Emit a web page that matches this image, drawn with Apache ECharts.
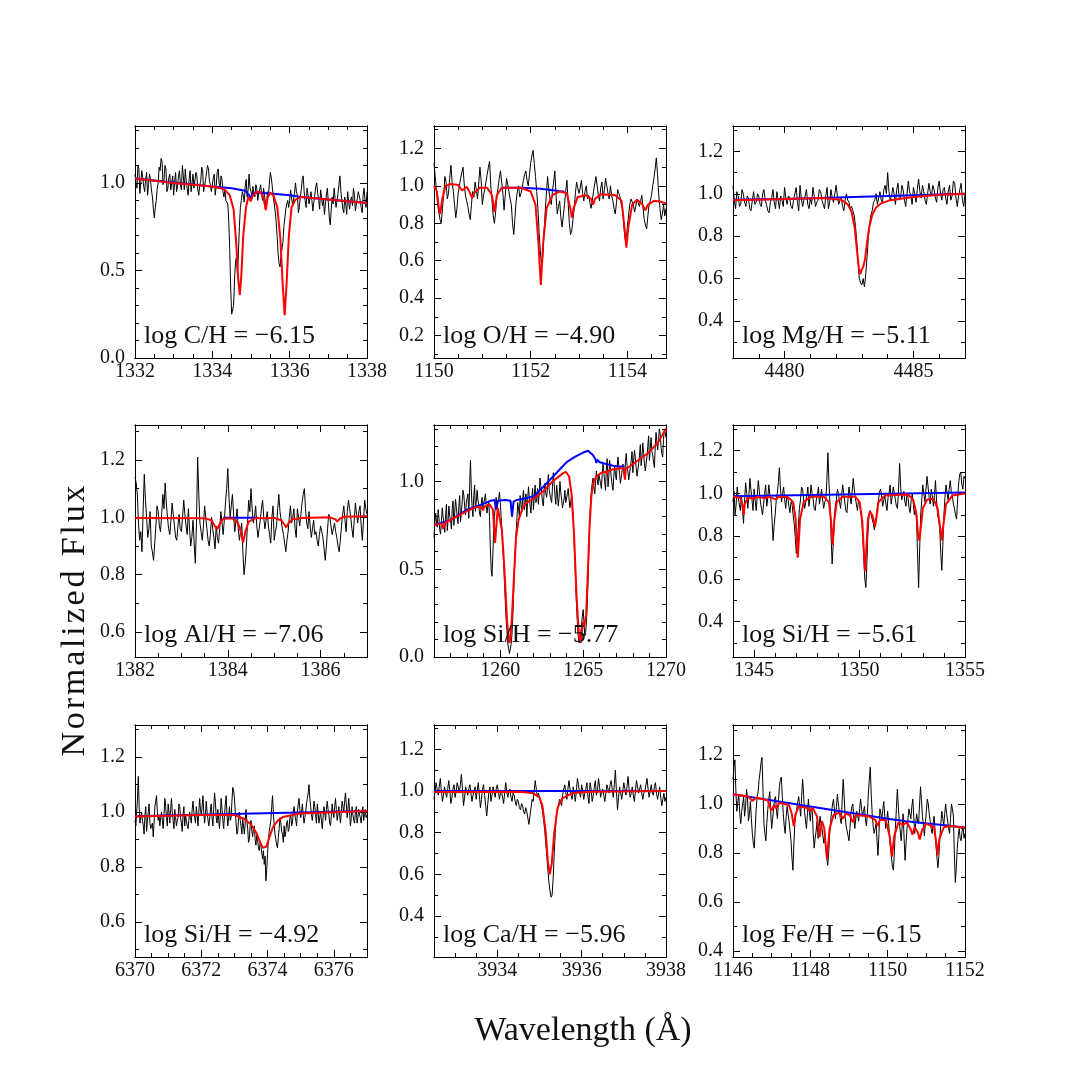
<!DOCTYPE html>
<html>
<head>
<meta charset="utf-8">
<title>Abundance fits</title>
<script src="https://cdn.jsdelivr.net/npm/echarts@6/dist/echarts.min.js"></script>
<style>
  html, body { margin: 0; background: #fff; }
  #chart { width: 1090px; height: 1090px; }
</style>
</head>
<body>
<div id="chart"></div>
<script>
// panel annotations, axis limits and tick labels
const labels = ['log C/H = −6.15', 'log O/H = −4.90', 'log Mg/H = −5.11',
  'log Al/H = −7.06', 'log Si/H = −5.77', 'log Si/H = −5.61',
  'log Si/H = −4.92', 'log Ca/H = −5.96', 'log Fe/H = −6.15']
const xLims = [[1332, 1338], [1150, 1154.8], [4478, 4487], [1382, 1387], [1256, 1270],
  [1344, 1355], [6370, 6377], [3932.5, 3938], [1146, 1152]]
const yLims = [[0, 1.325], [0.08, 1.32], [0.225, 1.32], [0.513, 1.322], [0, 1.322],
  [0.235, 1.32], [0.473, 1.317], [0.203, 1.317], [0.376, 1.322]]
const xMajor = [[1332, 1334, 1336, 1338], [1150, 1152, 1154], [4480, 4485], [1382, 1384, 1386],
  [1260, 1265, 1270], [1345, 1350, 1355], [6370, 6372, 6374, 6376], [3934, 3936, 3938],
  [1146, 1148, 1150, 1152]]
const xMinorStep = [0.5, 0.5, 1, 0.5, 1, 1, 0.5, 0.5, 0.5]
const yMajor = [[0, 0.5, 1.0], [0.2, 0.4, 0.6, 0.8, 1.0, 1.2], [0.4, 0.6, 0.8, 1.0, 1.2],
  [0.6, 0.8, 1.0, 1.2], [0, 0.5, 1.0], [0.4, 0.6, 0.8, 1.0, 1.2], [0.6, 0.8, 1.0, 1.2],
  [0.4, 0.6, 0.8, 1.0, 1.2], [0.4, 0.6, 0.8, 1.0, 1.2]]
const yMinorStep = 0.1

// observed spectra (evenly sampled across each panel's wavelength window)
const fluxC = [1.05, 1.00, 0.97, 1.10, 1.08, 0.94, 1.00, 1.07, 1.03, 0.98, 0.95, 1.02, 1.06, 0.93, 0.99, 1.05, 1.02, 0.96, 0.92, 0.85,
  0.80, 0.86, 0.90, 0.97, 1.00, 1.09, 1.07, 1.14, 1.12, 0.99, 1.02, 1.10, 1.08, 0.95, 0.97, 1.03, 1.05, 0.96, 1.00, 1.04,
  0.93, 1.01, 1.06, 0.95, 0.98, 1.04, 1.07, 0.99, 0.96, 1.10, 1.04, 0.96, 1.08, 1.01, 0.97, 0.93, 1.02, 1.07, 0.95, 1.00,
  1.05, 0.97, 0.98, 1.06, 1.04, 0.96, 0.93, 0.99, 1.01, 1.09, 1.07, 0.95, 0.96, 1.02, 1.03, 1.10, 1.08, 1.01, 0.99, 0.95,
  0.94, 1.03, 1.05, 0.93, 0.98, 1.06, 1.08, 1.00, 0.97, 1.04, 1.02, 0.95, 0.92, 0.96, 0.90, 0.91, 0.88, 0.78, 0.62, 0.40,
  0.25, 0.24, 0.30, 0.45, 0.55, 0.58, 0.48, 0.60, 0.75, 0.86, 0.90, 0.95, 0.93, 0.89, 0.98, 1.02, 0.92, 0.96, 1.05, 0.97,
  0.95, 0.91, 0.98, 0.94, 0.92, 0.99, 0.97, 0.90, 0.94, 0.96, 0.99, 0.93, 0.90, 0.97, 0.93, 0.88, 0.86, 0.95, 0.92, 1.00,
  1.06, 1.03, 0.98, 0.92, 0.88, 0.84, 0.78, 0.70, 0.60, 0.54, 0.52, 0.58, 0.62, 0.66, 0.75, 0.80, 0.85, 0.88, 0.90, 0.86,
  0.90, 0.96, 0.95, 0.87, 0.88, 0.94, 1.00, 0.95, 0.93, 0.83, 0.86, 0.92, 0.96, 1.02, 1.04, 0.95, 0.90, 0.86, 0.97, 0.93,
  0.88, 0.91, 0.95, 0.90, 0.84, 0.89, 0.93, 0.98, 1.00, 0.94, 0.90, 0.85, 0.96, 0.92, 0.87, 0.91, 0.82, 0.88, 0.93, 0.97,
  0.89, 0.80, 0.76, 0.85, 0.92, 0.88, 0.97, 0.91, 0.86, 0.90, 0.94, 0.99, 1.04, 0.95, 0.90, 0.85, 0.83, 0.92, 0.88, 0.82,
  0.95, 0.89, 0.85, 0.90, 0.92, 0.87, 0.97, 0.93, 0.84, 0.88, 0.91, 0.95, 0.96, 0.90, 0.86, 0.83, 0.93, 0.97, 0.90, 0.86, 0.95]
const fluxO = [1.12, 1.05, 0.98, 0.90, 0.86, 0.82, 0.80, 0.88, 0.95, 1.05, 1.02, 0.93, 0.96, 1.04, 1.11, 1.02, 0.97, 0.90, 0.83, 0.88,
  0.96, 1.00, 1.04, 1.07, 1.10, 1.01, 0.95, 0.92, 0.89, 0.85, 0.82, 0.90, 0.97, 0.94, 1.02, 0.98, 0.93, 1.01, 1.10, 1.03,
  0.90, 0.95, 0.98, 1.02, 1.06, 1.10, 1.13, 1.00, 0.92, 0.84, 0.80, 0.86, 0.94, 0.99, 1.04, 1.08, 1.09, 0.96, 0.87, 0.95,
  1.04, 1.01, 0.97, 0.93, 0.90, 0.80, 0.74, 0.83, 0.92, 0.97, 1.00, 0.94, 0.96, 0.99, 1.03, 1.06, 1.08, 1.03, 1.00, 1.06,
  1.12, 1.16, 1.19, 1.12, 1.05, 0.97, 0.88, 0.75, 0.65, 0.58, 0.62, 0.74, 0.86, 0.96, 1.05, 0.98, 0.93, 0.90, 0.97, 1.02,
  1.08, 0.95, 0.85, 0.89, 0.92, 0.83, 0.78, 0.84, 0.90, 0.97, 1.03, 0.91, 0.80, 0.74, 0.76, 0.82, 0.88, 0.96, 1.02, 0.99,
  0.96, 0.99, 1.03, 0.96, 0.92, 0.97, 1.00, 0.93, 0.95, 0.91, 0.88, 0.92, 0.97, 1.01, 1.05, 1.00, 0.95, 0.92, 0.99, 1.02,
  0.93, 0.98, 1.04, 1.00, 0.96, 0.93, 1.00, 0.95, 0.92, 0.88, 0.85, 0.91, 0.98, 0.96, 0.94, 0.90, 0.88, 0.80, 0.72, 0.70,
  0.78, 0.84, 0.90, 0.93, 0.94, 0.90, 0.86, 0.89, 0.93, 0.91, 0.89, 0.92, 0.95, 0.88, 0.82, 0.79, 0.77, 0.84, 0.90, 0.92,
  0.95, 1.00, 1.04, 1.09, 1.15, 1.06, 0.95, 0.88, 0.82, 0.85, 0.90, 0.84, 0.88]
const fluxMg = [1.04, 0.97, 0.93, 1.01, 0.99, 0.94, 0.95, 1.02, 1.00, 0.96, 0.94, 0.99, 0.98, 0.93, 0.92, 0.97, 1.01, 0.95, 0.96, 1.00,
  0.99, 0.95, 0.94, 1.00, 1.02, 0.97, 0.95, 0.92, 0.91, 0.96, 0.98, 1.02, 0.96, 0.93, 1.01, 0.97, 0.93, 0.99, 0.97, 0.94,
  1.03, 0.98, 0.95, 0.99, 0.98, 0.94, 0.93, 0.97, 1.00, 1.03, 0.96, 0.92, 1.04, 0.98, 0.94, 0.97, 0.99, 1.02, 0.95, 0.93,
  0.98, 0.95, 1.03, 0.99, 0.94, 0.96, 0.97, 1.02, 1.01, 0.97, 0.95, 0.93, 0.99, 1.03, 0.93, 0.96, 1.02, 0.98, 0.96, 1.00,
  1.04, 0.99, 0.95, 0.97, 0.98, 0.94, 0.92, 0.97, 1.00, 0.97, 0.96, 0.93, 0.94, 0.92, 0.90, 0.85, 0.78, 0.68, 0.60, 0.58,
  0.57, 0.60, 0.56, 0.62, 0.70, 0.79, 0.86, 0.90, 0.92, 0.96, 0.97, 1.00, 0.95, 0.98, 1.01, 0.97, 0.96, 1.02, 1.04, 1.00,
  1.10, 1.01, 0.97, 0.99, 1.03, 1.00, 0.95, 1.02, 1.05, 0.97, 0.98, 1.04, 1.02, 0.97, 0.94, 1.00, 1.06, 1.01, 0.99, 0.95,
  1.03, 1.00, 0.96, 1.02, 1.07, 1.01, 0.98, 1.04, 1.01, 0.97, 0.95, 1.00, 1.05, 1.01, 0.99, 1.04, 1.02, 0.98, 0.96, 1.03,
  1.06, 1.00, 0.97, 1.02, 1.03, 0.98, 0.95, 1.01, 1.04, 0.97, 0.99, 1.06, 1.05, 0.98, 0.94, 0.99, 1.02, 1.05, 0.97, 0.94, 1.00]
const fluxAl = [1.14, 1.12, 1.08, 0.98, 0.92, 0.95, 0.88, 1.02, 1.15, 1.06, 1.00, 0.93, 0.96, 1.02, 0.90, 0.88, 0.85, 0.91, 0.97, 1.04,
  1.02, 0.97, 0.95, 1.01, 1.08, 1.03, 1.12, 1.05, 1.00, 0.96, 0.94, 0.99, 1.05, 1.01, 0.97, 0.93, 0.92, 0.97, 1.01, 0.96,
  0.95, 1.00, 1.06, 1.01, 0.97, 0.94, 1.03, 0.96, 0.90, 0.93, 0.99, 0.91, 0.84, 0.98, 1.21, 1.08, 0.98, 0.95, 0.92, 0.97,
  1.04, 1.00, 0.96, 0.92, 0.90, 0.94, 1.00, 0.96, 0.93, 0.89, 0.97, 0.93, 0.91, 0.96, 1.02, 0.98, 0.94, 0.99, 1.05, 1.10,
  1.17, 1.07, 1.00, 1.04, 1.08, 1.01, 0.95, 0.99, 1.03, 0.96, 0.92, 0.95, 0.98, 0.88, 0.80, 0.84, 0.90, 0.98, 1.06, 1.02,
  1.10, 1.03, 0.98, 1.00, 1.04, 0.97, 0.93, 0.96, 0.99, 1.03, 1.06, 1.00, 0.96, 0.99, 1.02, 0.97, 0.94, 0.91, 1.00, 1.04,
  0.92, 0.95, 0.97, 1.03, 1.08, 1.02, 0.99, 0.96, 0.94, 0.91, 0.88, 0.92, 0.95, 1.00, 1.04, 0.98, 1.00, 1.03, 0.96, 0.93,
  1.03, 1.00, 0.97, 1.01, 1.05, 1.08, 1.10, 1.03, 0.98, 0.96, 1.02, 0.97, 0.93, 0.96, 0.99, 0.94, 0.95, 0.92, 0.90, 0.94,
  0.97, 0.95, 0.93, 0.89, 0.85, 0.90, 0.96, 1.01, 1.00, 0.97, 0.94, 0.96, 0.98, 0.95, 0.93, 0.90, 0.88, 0.92, 0.97, 1.01,
  1.04, 0.99, 0.95, 1.02, 1.06, 1.03, 1.00, 0.96, 0.93, 0.99, 1.05, 1.01, 0.98, 1.02, 1.04, 0.97, 0.92, 0.99, 1.06, 1.03, 1.01]
const fluxSi1260 = [0.68, 0.76, 0.82, 0.77, 0.74, 0.84, 0.79, 0.72, 0.70, 0.78, 0.85, 0.80, 0.76, 0.71, 0.81, 0.87, 0.72, 0.78, 0.86, 0.80,
  0.78, 0.73, 0.84, 0.89, 0.75, 0.82, 0.90, 0.85, 0.80, 0.76, 0.86, 0.92, 0.77, 0.82, 0.83, 0.95, 0.92, 0.86, 0.81, 0.88,
  0.87, 0.93, 0.79, 0.97, 1.12, 0.96, 0.85, 0.80, 0.92, 0.98, 0.83, 0.88, 0.95, 0.90, 0.86, 0.82, 0.80, 0.87, 0.91, 0.85,
  0.84, 0.90, 0.93, 0.87, 0.82, 0.86, 0.89, 0.80, 0.62, 0.50, 0.46, 0.58, 0.72, 0.80, 0.86, 0.91, 0.84, 0.88, 0.90, 0.94,
  0.88, 0.80, 0.72, 0.63, 0.55, 0.43, 0.32, 0.22, 0.15, 0.08, 0.05, 0.02, 0.03, 0.07, 0.12, 0.22, 0.35, 0.48, 0.60, 0.70,
  0.78, 0.88, 0.85, 0.80, 0.92, 0.87, 0.83, 0.90, 0.95, 0.84, 0.88, 0.93, 0.80, 0.89, 0.97, 0.91, 0.86, 0.82, 0.91, 0.96,
  0.84, 0.92, 0.98, 0.88, 0.90, 0.96, 0.87, 0.94, 1.02, 0.97, 0.93, 0.88, 0.86, 0.95, 0.99, 0.93, 0.91, 0.97, 1.04, 0.95,
  0.95, 0.90, 0.88, 0.97, 1.05, 0.99, 0.92, 0.87, 0.98, 0.93, 0.86, 0.91, 1.00, 0.94, 0.90, 0.85, 0.84, 0.90, 0.95, 0.88,
  0.89, 0.93, 0.96, 0.90, 0.85, 0.88, 0.92, 0.87, 0.80, 0.68, 0.55, 0.42, 0.30, 0.20, 0.12, 0.08, 0.09, 0.13, 0.18, 0.23,
  0.27, 0.20, 0.12, 0.14, 0.20, 0.31, 0.45, 0.62, 0.78, 0.88, 0.95, 0.99, 1.02, 0.97, 0.93, 1.00, 1.06, 1.01, 0.98, 1.04,
  1.05, 0.99, 0.96, 1.04, 1.10, 1.05, 1.00, 0.95, 1.07, 1.13, 0.97, 1.03, 1.12, 1.07, 1.02, 0.98, 0.95, 1.03, 1.09, 1.04,
  1.01, 1.08, 1.14, 1.09, 1.04, 0.99, 0.98, 1.06, 1.10, 1.05, 1.03, 1.11, 1.16, 1.09, 1.06, 1.01, 1.00, 1.08, 1.12, 1.17,
  1.05, 1.12, 1.18, 1.13, 1.08, 1.03, 1.02, 1.10, 1.15, 1.21, 1.09, 1.14, 1.22, 1.16, 1.10, 1.06, 1.05, 1.14, 1.20, 1.26,
  1.12, 1.19, 1.25, 1.17, 1.15, 1.11, 1.08, 1.20, 1.28, 1.22, 1.18, 1.24, 1.30, 1.27, 1.20, 1.16, 1.14, 1.24, 1.30, 1.28, 1.25]
const fluxSi1350 = [0.96, 1.01, 0.90, 0.95, 1.03, 0.98, 0.95, 0.92, 0.99, 0.93, 0.86, 0.97, 1.05, 1.00, 0.93, 0.98, 1.07, 1.02, 0.97, 0.92,
  1.02, 0.97, 0.92, 0.99, 1.06, 1.01, 0.96, 0.93, 0.90, 0.95, 1.00, 1.04, 0.94, 0.98, 1.04, 0.99, 0.97, 0.88, 0.78, 0.85,
  0.90, 0.97, 1.00, 1.05, 1.12, 1.02, 0.96, 1.00, 1.03, 0.97, 0.93, 0.99, 0.98, 0.94, 0.91, 0.96, 0.95, 0.90, 0.86, 0.80,
  0.72, 0.76, 0.85, 0.93, 0.97, 1.03, 1.02, 0.97, 0.93, 0.96, 0.99, 1.03, 0.94, 0.98, 1.04, 1.00, 0.97, 0.93, 0.92, 0.97,
  0.99, 1.03, 0.95, 0.99, 1.02, 0.97, 0.93, 0.96, 0.97, 1.06, 1.19, 1.05, 0.95, 0.80, 0.67, 0.76, 0.88, 0.94, 0.97, 1.02,
  1.00, 0.96, 0.93, 0.99, 1.04, 1.00, 0.96, 0.92, 0.91, 0.97, 1.03, 0.99, 0.95, 1.01, 1.07, 1.02, 0.98, 0.95, 0.92, 0.97,
  0.95, 0.92, 0.88, 0.80, 0.70, 0.60, 0.56, 0.68, 0.82, 0.90, 0.92, 0.90, 0.88, 0.86, 0.83, 0.86, 0.90, 0.94, 0.97, 1.01,
  1.02, 0.98, 0.94, 0.97, 0.99, 0.95, 0.92, 0.98, 1.00, 1.04, 0.95, 0.99, 1.03, 1.00, 0.97, 0.94, 0.93, 1.02, 1.14, 1.03,
  0.97, 0.99, 1.01, 0.96, 0.94, 1.00, 0.98, 0.93, 0.91, 0.97, 1.00, 0.95, 0.90, 0.94, 0.88, 0.72, 0.56, 0.74, 0.90, 0.97,
  1.04, 1.00, 0.96, 1.02, 1.08, 1.03, 0.98, 0.95, 1.02, 0.99, 0.94, 0.99, 1.06, 0.97, 0.90, 0.88, 0.84, 0.72, 0.64, 0.76,
  0.90, 0.98, 1.04, 1.00, 0.97, 1.02, 1.06, 1.01, 0.99, 0.95, 0.93, 0.90, 0.88, 0.97, 1.05, 1.09, 1.10, 1.04, 1.02, 1.08, 1.07]
const fluxSi6371 = [0.97, 0.95, 1.00, 1.05, 1.13, 1.02, 0.96, 0.98, 1.00, 0.97, 0.95, 0.92, 0.99, 1.02, 0.93, 0.97, 1.00, 1.03, 0.96, 0.94,
  0.94, 0.96, 0.91, 0.96, 1.02, 1.04, 1.06, 1.00, 0.97, 0.99, 0.95, 0.98, 1.00, 0.97, 0.94, 0.99, 1.05, 1.02, 0.98, 0.95,
  1.03, 1.00, 0.96, 1.01, 1.05, 1.00, 0.97, 0.94, 1.01, 0.98, 0.95, 0.97, 0.98, 1.03, 1.02, 0.98, 0.96, 0.93, 0.99, 1.02,
  0.95, 0.99, 0.97, 0.95, 0.94, 0.97, 1.00, 0.98, 0.96, 1.01, 1.04, 1.00, 0.98, 0.96, 1.02, 0.99, 0.95, 1.00, 1.05, 1.01,
  0.99, 1.02, 1.06, 1.00, 0.96, 0.99, 1.04, 1.00, 1.00, 0.95, 0.97, 1.01, 1.03, 0.98, 0.95, 1.01, 1.07, 1.04, 0.98, 0.96,
  1.01, 0.97, 0.94, 0.99, 1.05, 1.01, 0.97, 0.94, 0.99, 1.03, 1.06, 0.99, 0.95, 0.98, 1.02, 0.97, 0.98, 1.04, 1.09, 1.08,
  1.05, 1.00, 0.96, 0.92, 0.93, 0.98, 1.00, 0.97, 0.95, 0.92, 0.98, 0.95, 0.92, 0.96, 1.01, 0.97, 0.94, 0.89, 0.90, 0.95,
  0.97, 0.93, 0.91, 0.94, 0.95, 0.90, 0.88, 0.92, 0.90, 0.87, 0.86, 0.89, 0.88, 0.85, 0.83, 0.86, 0.81, 0.84, 0.75, 0.79,
  0.85, 0.90, 0.93, 0.95, 0.97, 1.02, 1.06, 1.00, 0.95, 0.92, 0.90, 0.88, 0.87, 0.91, 0.94, 0.98, 0.96, 0.93, 0.92, 0.89,
  0.95, 0.91, 0.93, 0.96, 0.97, 0.93, 0.94, 0.98, 0.99, 0.95, 0.96, 1.00, 1.02, 0.99, 0.97, 0.95, 1.00, 1.03, 1.05, 1.01,
  0.98, 1.00, 1.03, 0.99, 0.96, 0.98, 1.00, 1.03, 1.05, 1.07, 1.10, 1.05, 1.02, 0.99, 0.97, 1.00, 1.04, 1.02, 0.99, 0.96,
  1.03, 1.00, 0.96, 0.98, 1.00, 0.97, 0.94, 0.98, 1.02, 1.00, 0.97, 1.01, 1.04, 1.01, 0.99, 0.96, 0.95, 0.99, 1.03, 1.00,
  0.98, 1.02, 1.05, 1.01, 0.97, 0.99, 1.02, 0.99, 0.96, 1.00, 1.04, 1.02, 1.00, 1.04, 1.07, 1.03, 0.98, 1.01, 1.05, 1.00,
  0.95, 0.98, 1.02, 0.99, 0.97, 0.96, 1.00, 1.02, 0.96, 0.98, 1.01, 0.99, 0.98, 0.96, 1.00, 1.02, 0.97, 0.99, 1.01, 0.98, 0.99]
const fluxCa = [0.96, 1.00, 1.04, 1.01, 0.98, 1.02, 1.06, 1.00, 0.95, 0.98, 1.02, 0.99, 0.97, 1.01, 1.05, 1.00, 0.94, 0.97, 1.01, 1.03,
  0.97, 1.00, 1.04, 1.02, 0.99, 1.03, 1.08, 1.01, 0.93, 0.97, 1.02, 1.00, 0.98, 1.01, 1.03, 0.99, 0.95, 0.98, 1.00, 1.02,
  0.96, 1.00, 1.04, 0.98, 0.92, 0.96, 1.01, 1.03, 0.98, 0.93, 0.88, 0.94, 0.99, 1.02, 0.95, 0.98, 1.02, 1.00, 0.97, 1.01,
  1.03, 1.00, 0.96, 0.99, 1.00, 0.97, 0.94, 0.99, 1.04, 1.00, 0.97, 1.00, 1.01, 0.97, 0.95, 0.99, 0.98, 0.95, 0.93, 0.96,
  0.95, 0.92, 0.91, 0.94, 0.93, 0.90, 0.89, 0.92, 0.90, 0.87, 0.84, 0.88, 0.92, 0.96, 0.95, 1.00, 1.05, 1.01, 0.97, 0.99,
  0.97, 0.95, 0.93, 0.90, 0.86, 0.81, 0.75, 0.69, 0.62, 0.56, 0.52, 0.49, 0.50, 0.58, 0.70, 0.80, 0.88, 0.91, 0.93, 0.96,
  0.95, 0.93, 0.98, 1.01, 1.03, 0.99, 0.96, 1.01, 1.05, 1.01, 0.98, 0.96, 1.02, 0.99, 0.95, 1.00, 1.06, 1.03, 0.99, 0.97,
  1.03, 1.00, 0.96, 0.99, 1.01, 1.04, 0.97, 0.94, 1.04, 1.01, 0.95, 0.98, 1.02, 1.05, 0.98, 1.00, 1.06, 1.02, 0.97, 1.00,
  1.01, 0.98, 0.95, 0.99, 1.03, 1.01, 0.99, 1.03, 1.05, 1.01, 0.97, 1.03, 1.10, 1.00, 0.91, 0.97, 1.02, 0.99, 0.96, 1.00,
  1.04, 1.01, 0.98, 1.02, 1.07, 1.01, 0.97, 0.99, 1.02, 0.98, 0.95, 1.00, 1.05, 1.02, 0.99, 1.01, 1.03, 0.99, 0.96, 0.99,
  1.00, 1.03, 1.06, 1.01, 0.97, 1.00, 1.03, 0.99, 0.98, 1.02, 1.04, 0.99, 0.96, 0.99, 1.02, 0.97, 0.93, 0.96, 0.99, 0.95, 0.97]
const fluxFe = [1.10, 1.15, 1.18, 1.05, 0.97, 1.01, 1.04, 0.96, 0.92, 0.97, 1.00, 1.03, 0.95, 0.99, 1.06, 1.02, 0.93, 0.96, 1.01, 0.94,
  0.88, 0.84, 0.82, 0.90, 0.98, 1.03, 1.05, 1.10, 1.13, 1.17, 1.19, 1.06, 0.92, 0.88, 0.85, 0.92, 0.98, 1.02, 1.05, 0.97,
  0.90, 0.94, 0.98, 1.02, 1.03, 0.97, 0.94, 1.01, 1.07, 1.10, 1.11, 1.03, 0.96, 0.91, 0.88, 0.95, 0.99, 0.96, 0.93, 0.89,
  0.85, 0.78, 0.73, 0.84, 0.92, 0.96, 0.98, 1.01, 1.03, 0.99, 0.95, 1.03, 1.10, 1.04, 0.97, 0.93, 0.90, 0.96, 1.02, 0.97,
  0.93, 0.99, 0.97, 0.88, 0.82, 0.86, 0.89, 0.93, 0.86, 0.90, 0.95, 0.92, 0.90, 0.87, 0.84, 0.88, 0.82, 0.78, 0.75, 0.80,
  0.88, 0.93, 0.97, 1.00, 1.02, 0.97, 0.94, 0.99, 1.04, 1.00, 0.97, 0.94, 0.92, 1.02, 1.10, 1.03, 0.95, 0.91, 0.89, 0.87,
  0.85, 0.90, 0.96, 0.99, 1.00, 0.94, 0.90, 0.94, 0.97, 0.95, 0.93, 0.98, 1.02, 0.98, 0.95, 0.97, 0.99, 0.94, 0.91, 0.96,
  1.04, 1.10, 1.15, 1.04, 0.96, 0.91, 0.88, 0.90, 0.92, 0.85, 0.79, 0.88, 0.98, 0.96, 0.94, 0.98, 1.01, 0.95, 0.90, 0.93,
  0.97, 0.92, 0.86, 0.82, 0.78, 0.74, 0.73, 0.81, 0.90, 0.98, 1.06, 0.99, 0.93, 0.89, 0.85, 0.91, 0.96, 0.86, 0.77, 0.84,
  0.90, 0.94, 0.98, 0.96, 0.94, 0.99, 1.02, 0.95, 0.88, 0.92, 0.96, 0.93, 0.92, 1.00, 1.07, 1.01, 0.95, 0.91, 0.87, 0.92,
  0.97, 1.02, 1.00, 0.96, 0.93, 0.90, 0.88, 0.92, 0.95, 0.89, 0.83, 0.78, 0.74, 0.79, 0.86, 0.92, 0.97, 0.94, 0.91, 0.96,
  1.00, 0.96, 0.93, 0.90, 0.88, 0.94, 1.00, 0.98, 0.95, 0.80, 0.68, 0.74, 0.82, 0.87, 0.90, 0.86, 0.85, 0.89, 0.91, 0.86, 0.88]

// best-fit model with the element (red), [wavelength, flux]
const modelC = [[1332, 1.025], [1333, 1.0], [1334, 0.98], [1334.3, 0.965], [1334.45, 0.93],
  [1334.55, 0.85], [1334.62, 0.65], [1334.67, 0.45], [1334.71, 0.36], [1334.75, 0.47],
  [1334.8, 0.7], [1334.87, 0.86], [1334.93, 0.92], [1334.99, 0.895], [1335.05, 0.93],
  [1335.15, 0.95], [1335.25, 0.945], [1335.33, 0.91], [1335.38, 0.845], [1335.43, 0.915],
  [1335.5, 0.945], [1335.58, 0.93], [1335.68, 0.86], [1335.76, 0.68], [1335.82, 0.42],
  [1335.87, 0.245], [1335.92, 0.42], [1335.98, 0.7], [1336.05, 0.86], [1336.15, 0.905],
  [1336.3, 0.92], [1337, 0.905], [1338, 0.885]]
const modelO = [[1150, 1.0], [1150.06, 0.97], [1150.1, 0.88], [1150.13, 0.85], [1150.17, 0.93],
  [1150.24, 1.0], [1150.35, 1.01], [1150.5, 1.005], [1150.58, 0.975], [1150.62, 0.97],
  [1150.68, 0.995], [1150.75, 0.96], [1150.79, 0.935], [1150.84, 0.965], [1150.95, 0.99],
  [1151.1, 0.99], [1151.2, 0.95], [1151.25, 0.86], [1151.3, 0.95], [1151.4, 0.99],
  [1151.8, 0.99], [1152.0, 0.97], [1152.1, 0.9], [1152.16, 0.7], [1152.21, 0.47],
  [1152.26, 0.7], [1152.33, 0.88], [1152.45, 0.95], [1152.6, 0.97], [1152.75, 0.96],
  [1152.82, 0.88], [1152.85, 0.83], [1152.89, 0.88], [1152.97, 0.94], [1153.15, 0.95],
  [1153.25, 0.93], [1153.29, 0.9], [1153.33, 0.93], [1153.45, 0.955], [1153.75, 0.95],
  [1153.88, 0.92], [1153.94, 0.78], [1153.98, 0.67], [1154.02, 0.78], [1154.1, 0.9],
  [1154.2, 0.925], [1154.3, 0.905], [1154.37, 0.87], [1154.43, 0.9], [1154.55, 0.92],
  [1154.7, 0.915], [1154.8, 0.905]]
const modelMg = [[4478, 0.97], [4480, 0.975], [4481.5, 0.98], [4482.2, 0.972], [4482.45, 0.95],
  [4482.6, 0.915], [4482.72, 0.84], [4482.82, 0.72], [4482.88, 0.65], [4482.94, 0.62],
  [4482.99, 0.64], [4483.05, 0.655], [4483.12, 0.69], [4483.2, 0.77], [4483.28, 0.84],
  [4483.4, 0.9], [4483.55, 0.935], [4483.75, 0.955], [4484.1, 0.97], [4485, 0.985],
  [4486, 0.995], [4487, 1.0]]
const modelAl = [[1382, 0.998], [1383.5, 0.997], [1383.65, 0.99], [1383.72, 0.97], [1383.77, 0.958],
  [1383.82, 0.975], [1383.9, 0.995], [1384.1, 0.997], [1384.22, 0.98], [1384.28, 0.95],
  [1384.33, 0.912], [1384.38, 0.95], [1384.45, 0.985], [1384.6, 0.997], [1385.0, 0.998],
  [1385.15, 0.99], [1385.22, 0.975], [1385.26, 0.965], [1385.31, 0.98], [1385.4, 0.995],
  [1385.47, 0.993], [1385.55, 0.998], [1386.2, 1.0], [1386.32, 0.993], [1386.36, 0.985],
  [1386.41, 0.995], [1386.5, 1.002], [1387, 1.004]]
const modelSi1260 = [[1256, 0.752], [1256.45, 0.76], [1256.56, 0.73], [1256.67, 0.765], [1257.36, 0.8],
  [1257.96, 0.83], [1258.56, 0.855], [1258.9, 0.85], [1258.96, 0.835], [1259.02, 0.855],
  [1259.35, 0.87], [1259.55, 0.84], [1259.65, 0.7], [1259.69, 0.65], [1259.74, 0.72],
  [1259.85, 0.85], [1259.95, 0.84], [1260.1, 0.72], [1260.25, 0.5], [1260.4, 0.22],
  [1260.5, 0.1], [1260.55, 0.08], [1260.6, 0.1], [1260.7, 0.22], [1260.82, 0.45],
  [1260.95, 0.68], [1261.1, 0.78], [1261.35, 0.85], [1261.55, 0.875], [1261.95, 0.9],
  [1262.55, 0.94], [1263.15, 1.0], [1263.75, 1.045], [1263.95, 1.055], [1264.15, 1.03],
  [1264.3, 0.93], [1264.45, 0.7], [1264.6, 0.35], [1264.75, 0.12], [1264.85, 0.08],
  [1264.92, 0.14], [1264.99, 0.2], [1265.05, 0.17], [1265.11, 0.16], [1265.18, 0.24],
  [1265.27, 0.45], [1265.39, 0.75], [1265.5, 0.92], [1265.62, 0.99], [1265.8, 1.03],
  [1266.1, 1.05], [1266.4, 1.055], [1266.44, 1.04], [1266.5, 1.06], [1266.8, 1.07],
  [1267.2, 1.075], [1267.45, 1.075], [1267.52, 1.01], [1267.58, 1.075], [1267.8, 1.085],
  [1268.3, 1.12], [1268.9, 1.16], [1269.5, 1.22], [1270, 1.3]]
const modelSi1350 = [[1344, 0.985], [1344.35, 0.98], [1344.44, 0.95], [1344.5, 0.9], [1344.56, 0.95],
  [1344.7, 0.98], [1345.0, 0.975], [1345.1, 0.983], [1345.55, 0.978], [1345.65, 0.985],
  [1346.05, 0.972], [1346.15, 0.985], [1346.6, 0.982], [1346.85, 0.96], [1346.97, 0.88],
  [1347.03, 0.76], [1347.07, 0.7], [1347.11, 0.76], [1347.18, 0.88], [1347.35, 0.96],
  [1347.7, 0.985], [1348.3, 0.985], [1348.55, 0.96], [1348.65, 0.87], [1348.73, 0.76],
  [1348.8, 0.87], [1348.92, 0.96], [1349.2, 0.985], [1349.8, 0.985], [1350.0, 0.96],
  [1350.13, 0.87], [1350.21, 0.72], [1350.26, 0.635], [1350.31, 0.72], [1350.4, 0.88],
  [1350.49, 0.915], [1350.6, 0.9], [1350.68, 0.87], [1350.73, 0.845], [1350.79, 0.88],
  [1350.9, 0.96], [1351.2, 0.99], [1352.3, 0.995], [1352.55, 0.97], [1352.7, 0.9],
  [1352.78, 0.8], [1352.83, 0.78], [1352.88, 0.82], [1353.0, 0.93], [1353.2, 0.97],
  [1353.5, 0.975], [1353.7, 0.93], [1353.82, 0.84], [1353.9, 0.78], [1353.96, 0.84],
  [1354.1, 0.95], [1354.4, 0.99], [1355, 1.0]]
const modelSi6371 = [[6370, 0.984], [6371, 0.987], [6372, 0.99], [6373, 0.99], [6373.3, 0.975],
  [6373.5, 0.955], [6373.66, 0.925], [6373.78, 0.89], [6373.86, 0.87], [6373.91, 0.865],
  [6373.97, 0.875], [6374.03, 0.9], [6374.16, 0.945], [6374.3, 0.968], [6374.46, 0.982],
  [6374.96, 0.995], [6376, 1.0], [6377, 1.004]]
const modelCa = [[3932.5, 0.995], [3934.5, 0.996], [3934.84, 0.99], [3935.0, 0.97], [3935.07, 0.93],
  [3935.15, 0.8], [3935.2, 0.66], [3935.245, 0.6], [3935.29, 0.65], [3935.35, 0.8],
  [3935.43, 0.92], [3935.54, 0.965], [3935.78, 0.99], [3936.2, 0.997], [3938, 1.0]]
const modelFe = [[1146, 1.04], [1146.4, 1.03], [1146.5, 1.012], [1146.6, 1.025], [1146.9, 1.015],
  [1146.99, 0.972], [1147.06, 0.995], [1147.12, 0.982], [1147.2, 1.005], [1147.45, 0.995],
  [1147.52, 0.96], [1147.57, 0.91], [1147.62, 0.96], [1147.7, 0.99], [1147.9, 0.985],
  [1147.98, 0.972], [1148.06, 0.985], [1148.17, 0.95], [1148.24, 0.865], [1148.3, 0.93],
  [1148.36, 0.9], [1148.43, 0.775], [1148.5, 0.9], [1148.6, 0.955], [1148.75, 0.965],
  [1148.84, 0.94], [1148.92, 0.96], [1149.02, 0.955], [1149.1, 0.925], [1149.18, 0.955],
  [1149.5, 0.95], [1149.68, 0.935], [1149.74, 0.91], [1149.8, 0.935], [1149.95, 0.935],
  [1150.05, 0.87], [1150.11, 0.785], [1150.17, 0.87], [1150.28, 0.925], [1150.39, 0.915],
  [1150.5, 0.925], [1150.6, 0.895], [1150.64, 0.875], [1150.7, 0.905], [1150.78, 0.885],
  [1150.83, 0.855], [1150.89, 0.895], [1151.0, 0.92], [1151.2, 0.905], [1151.25, 0.85],
  [1151.29, 0.79], [1151.34, 0.86], [1151.45, 0.905], [1151.6, 0.91], [1152, 0.903]]

// model without the element (blue), [wavelength, flux]
const contC = [[1332, 1.025], [1334, 0.98], [1334.5, 0.97], [1334.85, 0.955], [1334.95, 0.93],
  [1334.99, 0.905], [1335.03, 0.935], [1335.15, 0.945], [1335.5, 0.94], [1336, 0.93],
  [1336.3, 0.92], [1338, 0.885]]
const contO = [[1151.4, 0.99], [1151.8, 0.99], [1152.2, 0.985], [1152.5, 0.975], [1152.7, 0.968]]
const contMg = [[4478, 0.972], [4480, 0.976], [4482, 0.982], [4484, 0.99], [4487, 1.0]]
const contAl = [[1383.9, 0.999], [1384.65, 0.999]]
const contSi1260 = [[1256, 0.752], [1257, 0.78], [1258, 0.84], [1258.9, 0.87], [1259.4, 0.89],
  [1259.65, 0.895], [1259.75, 0.84], [1259.85, 0.89], [1260.3, 0.895], [1260.62, 0.89],
  [1260.71, 0.8], [1260.8, 0.885], [1261.0, 0.895], [1261.5, 0.905], [1262.0, 0.915],
  [1262.5, 0.96], [1263.0, 1.01], [1263.5, 1.06], [1264.0, 1.11], [1264.5, 1.14],
  [1265.0, 1.165], [1265.3, 1.175], [1265.6, 1.15], [1265.75, 1.125], [1265.8, 1.105],
  [1265.85, 1.125], [1266.0, 1.11], [1266.4, 1.1], [1266.8, 1.09], [1267.2, 1.085],
  [1267.5, 1.085]]
const contSi1350 = [[1344, 0.987], [1355, 1.004]]
const contSi6371 = [[6370, 0.985], [6373.9, 0.996], [6377, 1.004]]
const contCa = [[3932.5, 1.0], [3938, 1.0]]
const contFe = [[1146, 1.04], [1148, 0.99], [1150, 0.94], [1150.47, 0.93], [1151.67, 0.91], [1152, 0.903]]

const observed = [fluxC, fluxO, fluxMg, fluxAl, fluxSi1260, fluxSi1350, fluxSi6371, fluxCa, fluxFe]
const models = [modelC, modelO, modelMg, modelAl, modelSi1260, modelSi1350, modelSi6371, modelCa, modelFe]
const conts = [contC, contO, contMg, contAl, contSi1260, contSi1350, contSi6371, contCa, contFe]

// layout
const FONT = 'Liberation Serif'
const gridLeft = [135, 434, 733]
const gridTop = [126, 425, 725]
const box = 232

function minorTicks(lim, step, majors) {
  const out = []
  for (let v = Math.ceil(lim[0] / step - 1e-9) * step; v <= lim[1] + 1e-9; v += step) {
    const r = Math.round(v * 1000) / 1000
    if (!majors.some(m => Math.abs(m - r) < 1e-6)) out.push(r)
  }
  return out
}

function makeAxis(p, lim, pos, ticks, len, labelVals, fmt, isX) {
  return {
    type: 'value',
    gridIndex: p,
    min: lim[0],
    max: lim[1],
    position: pos,
    axisLine: { show: true, onZero: false, lineStyle: { color: '#000', width: 1 } },
    axisTick: { show: true, inside: true, length: len, customValues: ticks, lineStyle: { color: '#000', width: 1 } },
    axisLabel: labelVals ? {
      show: true, customValues: labelVals, formatter: fmt,
      color: '#111', fontFamily: FONT, fontSize: 20, margin: isX ? 4 : 10
    } : { show: false },
    splitLine: { show: false }
  }
}

const option = {
  backgroundColor: '#fff',
  animation: false,
  grid: [],
  xAxis: [],
  yAxis: [],
  series: [],
  graphic: []
}

for (let p = 0; p < 9; p++) {
  const col = p % 3
  const row = Math.floor(p / 3)
  option.grid.push({ left: gridLeft[col], top: gridTop[row], width: box, height: box, show: false })

  const xm = xMajor[p]
  const xn = minorTicks(xLims[p], xMinorStep[p], xm)
  const ym = yMajor[p].filter(v => v >= yLims[p][0] && v <= yLims[p][1])
  const yn = minorTicks(yLims[p], yMinorStep, ym)
  const fx = v => String(v)
  const fy = v => v.toFixed(1)

  option.xAxis.push(
    makeAxis(p, xLims[p], 'bottom', xm, 7, xm, fx, true),
    makeAxis(p, xLims[p], 'bottom', xn, 4, null),
    makeAxis(p, xLims[p], 'top', xm, 7, null),
    makeAxis(p, xLims[p], 'top', xn, 4, null)
  )
  option.yAxis.push(
    makeAxis(p, yLims[p], 'left', ym, 7, ym, fy, false),
    makeAxis(p, yLims[p], 'left', yn, 4, null),
    makeAxis(p, yLims[p], 'right', ym, 7, null),
    makeAxis(p, yLims[p], 'right', yn, 4, null)
  )

  const flux = observed[p]
  const lo = xLims[p][0]
  const step = (xLims[p][1] - lo) / (flux.length - 1)
  const obsData = flux.map((f, i) => [lo + i * step, f])

  option.series.push(
    {
      type: 'line', xAxisIndex: 4 * p, yAxisIndex: 4 * p, data: obsData,
      symbol: 'none', lineStyle: { color: '#000', width: 1 }, z: 2, silent: true
    },
    {
      type: 'line', xAxisIndex: 4 * p, yAxisIndex: 4 * p, data: conts[p],
      symbol: 'none', lineStyle: { color: '#0000ff', width: 2 }, z: 3, silent: true
    },
    {
      type: 'line', xAxisIndex: 4 * p, yAxisIndex: 4 * p, data: models[p],
      symbol: 'none', lineStyle: { color: '#ff0000', width: 2 }, z: 4, silent: true
    }
  )

  option.graphic.push({
    type: 'text',
    x: gridLeft[col] + 9,
    y: gridTop[row] + 210,
    z: 10,
    style: {
      text: labels[p], fill: '#111', font: '26px "' + FONT + '"',
      textAlign: 'left', textVerticalAlign: 'middle', verticalAlign: 'middle'
    }
  })
}

// axis titles, slightly letter-spaced like the original plotting font
const spaced = s => s.split('').join('\u200A')
option.graphic.push(
  {
    type: 'text', x: 583, y: 1031, z: 10,
    style: {
      text: 'Wavelength (Å)', fill: '#111', font: '34px "' + FONT + '"',
      textAlign: 'center', textVerticalAlign: 'middle', align: 'center', verticalAlign: 'middle'
    }
  },
  {
    type: 'text', x: 75, y: 621, z: 10, rotation: Math.PI / 2,
    style: {
      text: spaced('Normalized Flux'), fill: '#111', font: '34px "' + FONT + '"',
      textAlign: 'center', textVerticalAlign: 'middle', align: 'center', verticalAlign: 'middle'
    }
  }
)

const myChart = echarts.init(document.getElementById('chart'), null, { renderer: 'canvas' })
myChart.setOption(option)
</script>
</body>
</html>
